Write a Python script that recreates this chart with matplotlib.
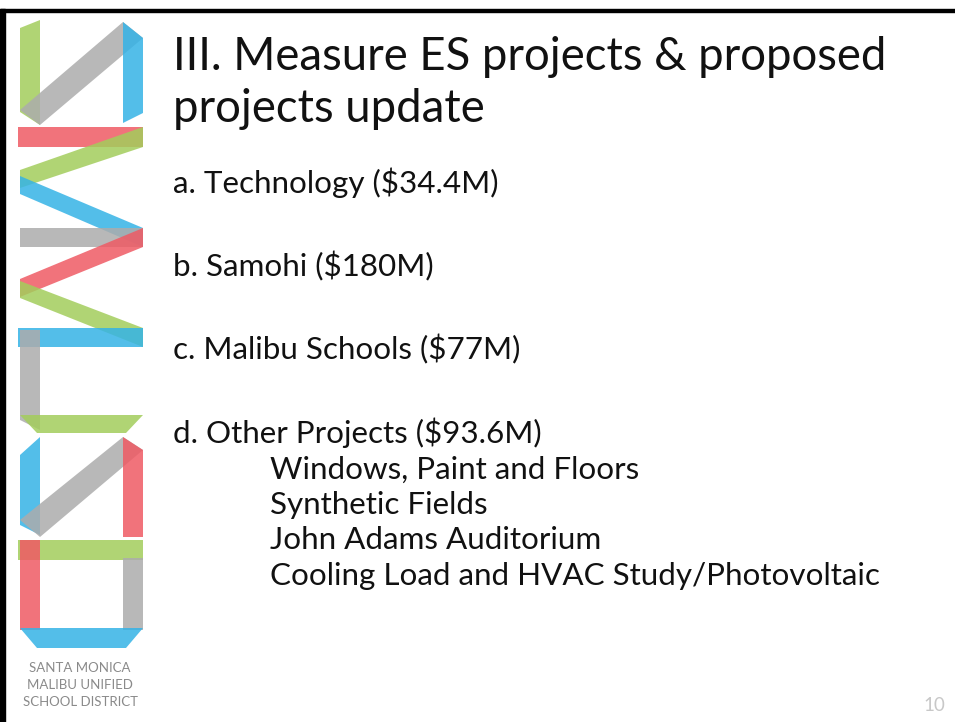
import matplotlib.pyplot as plt
from matplotlib.patches import Polygon, Rectangle

plt.rcParams['font.family'] = ['Lato', 'DejaVu Sans']

# slide text
title_lines = ['III. Measure ES projects & proposed', 'projects update']
items = ['a. Technology ($34.4M)', 'b. Samohi ($180M)',
         'c. Malibu Schools ($77M)', 'd. Other Projects ($93.6M)']
sub_items = ['Windows, Paint and Floors', 'Synthetic Fields',
             'John Adams Auditorium', 'Cooling Load and HVAC Study/Photovoltaic']
logo_text = ['SANTA MONICA', 'MALIBU UNIFIED', 'SCHOOL DISTRICT']
page_no = '10'

# logo ribbons (pixel coordinates of the slide, top-down)
colors = {'g': '#A3CD5C', 'k': '#ACACAC', 'b': '#35B3E6', 'r': '#EF5A64'}
ribbons = [
    ('g', [(20, 28), (40, 20), (40, 125), (20, 112)]),
    ('k', [(20, 110), (40, 125), (143, 38), (123, 22)]),
    ('b', [(123, 22), (143, 38), (143, 113), (123, 123)]),
    ('r', [(18, 127), (143, 127), (143, 147), (18, 147)]),
    ('g', [(143, 127), (143, 147), (20, 188), (20, 170)]),
    ('b', [(20, 176), (20, 194), (143, 247), (143, 228)]),
    ('k', [(20, 228), (143, 228), (143, 247), (20, 247)]),
    ('r', [(143, 228), (143, 247), (20, 297), (20, 279)]),
    ('g', [(20, 281), (20, 298), (143, 347), (143, 328)]),
    ('b', [(18, 328), (143, 328), (143, 347), (18, 347)]),
    ('k', [(20, 330), (40, 330), (40, 430), (20, 420)]),
    ('g', [(20, 415), (143, 415), (126, 433), (37, 433)]),
    ('b', [(20, 455), (40, 437), (40, 535), (20, 525)]),
    ('k', [(20, 520), (40, 537), (143, 450), (123, 437)]),
    ('r', [(123, 437), (143, 450), (143, 537), (123, 537)]),
    ('g', [(18, 540), (143, 540), (143, 560), (18, 560)]),
    ('r', [(20, 540), (40, 540), (40, 630), (20, 630)]),
    ('k', [(123, 558), (143, 558), (143, 630), (123, 630)]),
    ('b', [(20, 628), (143, 628), (126, 648), (37, 648)]),
]

fig = plt.figure(figsize=(9.55, 7.22), dpi=100)
ax = fig.add_axes([0, 0, 1, 1])
ax.set_xlim(0, 955)
ax.set_ylim(722, 0)
ax.axis('off')

# slide border (top and left)
ax.add_patch(Rectangle((0, 9), 955, 3, color='black'))
ax.add_patch(Rectangle((0, 9), 5, 713, color='black'))

for c, pts in ribbons:
    ax.add_patch(Polygon(pts, closed=True, facecolor=colors[c], edgecolor='none', alpha=0.85))

for i, t in enumerate(logo_text):
    ax.text(80, 672 + i * 17, t, fontsize=9.5, color='#8A8A8A', ha='center', va='baseline')

for i, t in enumerate(title_lines):
    ax.text(173, 70 + i * 52, t, fontsize=32.8, color='#111111', va='baseline')

item_y = [193, 276, 359, 443]
for t, y in zip(items, item_y):
    ax.text(173, y, t, fontsize=22.6, color='#111111', va='baseline')

sub_y = [479, 514, 549, 585]
for t, y in zip(sub_items, sub_y):
    ax.text(270, y, t, fontsize=22.6, color='#111111', va='baseline')

ax.text(945, 711, page_no, fontsize=13.5, color='#C8C8C8', ha='right', va='baseline')

fig.savefig('out.png', dpi=100)
